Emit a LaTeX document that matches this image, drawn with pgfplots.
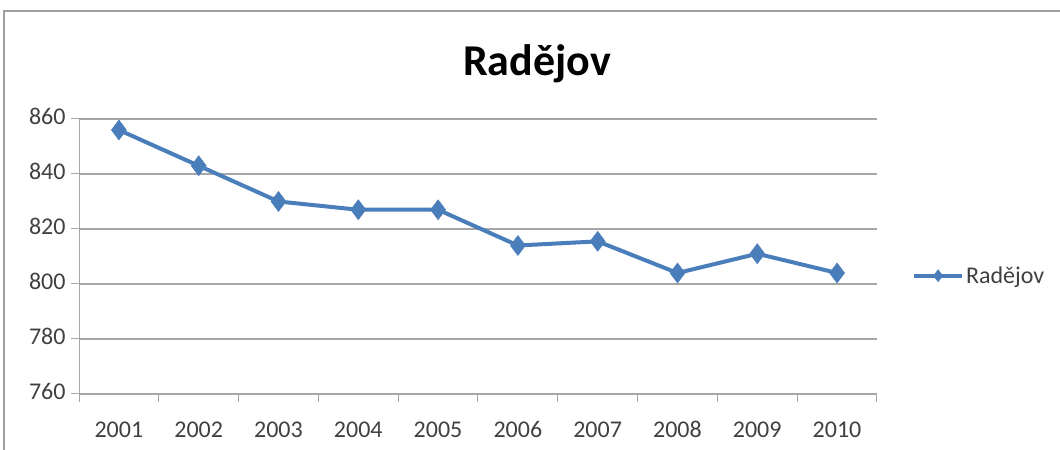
\documentclass[border=0pt]{standalone}
\usepackage{fontspec}
\setmainfont{Carlito}
\usepackage{pgfplots}
\pgfplotsset{compat=1.18}
\definecolor{serie}{HTML}{4A7EBB}
\definecolor{gridc}{HTML}{A6A6A6}
\definecolor{labc}{HTML}{404040}
\begin{document}
\begin{tikzpicture}[x=1bp,y=1bp]
\useasboundingbox (0,0) rectangle (1060,450);
% chart frame (cut off at the right and bottom)
\draw[gray!75, line width=2bp] (4,-5) -- (4,439) -- (1065,439);
\node[font=\fontsize{44bp}{50bp}\selectfont\bfseries] at (537,386) {Radějov};
\begin{axis}[
  at={(79bp,56bp)}, anchor=south west,
  scale only axis, width=798bp, height=275bp,
  xmin=2000.5, xmax=2010.5, ymin=760, ymax=860,
  xtick={2000.5,2001.5,...,2010.5},
  x tick label as interval,
  xticklabels={2001,2002,2003,2004,2005,2006,2007,2008,2009,2010},
  ytick={760,780,...,860},
  axis x line=bottom, axis y line=left,
  axis line style={-, draw=gridc, line width=1bp},
  tick align=outside,
  every tick/.style={draw=gridc, line width=1bp},
  major tick length=8bp,
  ymajorgrids, grid style={draw=gridc, line width=1.2bp},
  /pgf/number format/assume math mode=true,
  /pgf/number format/1000 sep={},
  typeset ticklabels with strut,
  tick label style={font=\fontsize{24bp}{28bp}\selectfont, text=labc},
  xticklabel style={yshift=-12bp},
  yticklabel style={xshift=-2bp},
  legend style={draw=none, fill=none, at={(1.04,0.43)}, anchor=west,
    font=\fontsize{24bp}{28bp}\selectfont, text=labc},
  legend image code/.code={\draw[mark repeat=2,mark phase=2,#1,mark size=6bp]
    plot coordinates {(0bp,0bp)(24bp,0bp)(48bp,0bp)};},
]
\addplot[serie, line width=4bp, mark=diamond*, mark size=10bp,
  mark options={fill=serie, draw=serie, line width=0.5bp}]
  coordinates {
  (2001,856) (2002,843) (2003,830) (2004,827) (2005,827)
  (2006,814) (2007,815.5) (2008,804) (2009,811) (2010,804)
};
\addlegendentry{Radějov}
\end{axis}
\end{tikzpicture}
\end{document}
